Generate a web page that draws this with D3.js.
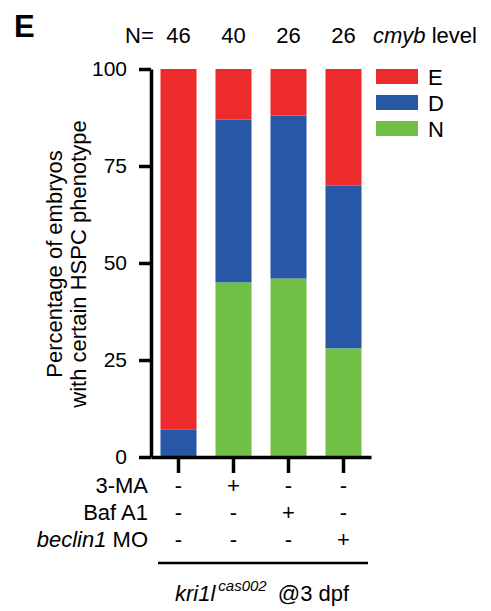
<!DOCTYPE html>
<html>
<head>
<meta charset="utf-8">
<script src="https://cdn.jsdelivr.net/npm/d3@7"></script>
<style>
  body { margin: 0; background: #fff; }
  text { font-family: "Liberation Sans", Arial, sans-serif; fill: #000; }
</style>
</head>
<body>
<div id="chart"></div>
<script>
// data
const groups = ["ctrl", "3-MA", "Baf A1", "beclin1 MO"];
const nCounts = [46, 40, 26, 26];
const pctN = [0, 45, 46, 28];
const pctD = [7, 42, 42, 42];
const pctE = [93, 13, 12, 30];
const levels = ["N", "D", "E"];
const legendOrder = ["E", "D", "N"];
const yTicks = [0, 25, 50, 75, 100];
const treatmentLabels = ["3-MA", "Baf A1", "beclin1 MO"];
const treatmentSigns = [
  ["-", "+", "-", "-"],
  ["-", "-", "+", "-"],
  ["-", "-", "-", "+"]
];

const colors = { E: "#ed2b2c", D: "#2757a5", N: "#72bf46" };

const width = 491, height = 611;
const fs = "22px";

let svg = d3.select("#chart")
  .append("svg")
  .attr("width", width)
  .attr("height", height);

let x = d3.scaleBand()
  .domain(groups)
  .range([151, 371])
  .paddingInner(0.345)
  .paddingOuter(0.1725);

let y = d3.scaleLinear()
  .domain([0, 100])
  .range([457, 69]);

// stack the three phenotype levels
let rows = groups.map((g, i) => ({ group: g, N: pctN[i], D: pctD[i], E: pctE[i] }));
let series = d3.stack().keys(levels)(rows);

svg.append("g")
  .selectAll("g")
  .data(series)
  .enter()
  .append("g")
  .attr("fill", d => colors[d.key])
  .selectAll("rect")
  .data(d => d)
  .enter()
  .append("rect")
  .attr("x", d => x(d.data.group))
  .attr("width", x.bandwidth())
  .attr("y", d => y(d[1]))
  .attr("height", d => y(d[0]) - y(d[1]));

// y axis
let yAxis = svg.append("g")
  .attr("transform", "translate(151,0)")
  .call(d3.axisLeft(y).tickValues(yTicks).tickSize(12).tickSizeOuter(0).tickPadding(12));
yAxis.selectAll("path, line").attr("stroke", "#000").attr("stroke-width", 3.5);
yAxis.selectAll("text").style("font-size", "21px").attr("fill", "#000");

// x axis (ticks only)
let xAxis = svg.append("g")
  .attr("transform", "translate(0,457)")
  .call(d3.axisBottom(x).tickSize(16).tickSizeOuter(0).tickFormat(""));
xAxis.selectAll("path, line").attr("stroke", "#000").attr("stroke-width", 3.5);

// y title
let yTitle = svg.append("text")
  .attr("transform", "translate(62,264) rotate(-90)")
  .attr("text-anchor", "middle")
  .style("font-size", fs);
yTitle.append("tspan").attr("x", 0).attr("dy", 0).text("Percentage of embryos");
yTitle.append("tspan").attr("x", 0).attr("dy", 24).text("with certain HSPC phenotype");

// panel letter
svg.append("text")
  .attr("x", 14)
  .attr("y", 37)
  .style("font-size", "31px")
  .style("font-weight", "bold")
  .text("E");

// N counts
svg.append("text")
  .attr("x", 125)
  .attr("y", 43)
  .style("font-size", fs)
  .text("N=");
svg.append("g")
  .selectAll("text")
  .data(nCounts)
  .enter()
  .append("text")
  .attr("x", (d, i) => x(groups[i]) + x.bandwidth() / 2)
  .attr("y", 43)
  .attr("text-anchor", "middle")
  .style("font-size", fs)
  .text(d => d);

let lvlTitle = svg.append("text")
  .attr("x", 373)
  .attr("y", 43)
  .style("font-size", fs);
lvlTitle.append("tspan").style("font-style", "italic").text("cmyb");
lvlTitle.append("tspan").text(" level");

// legend
let legend = svg.append("g")
  .selectAll("g")
  .data(legendOrder)
  .enter()
  .append("g")
  .attr("transform", (d, i) => `translate(376,${69 + i * 26})`);
legend.append("rect")
  .attr("width", 42)
  .attr("height", 15)
  .attr("fill", d => colors[d]);
legend.append("text")
  .attr("x", 52)
  .attr("y", 16)
  .style("font-size", fs)
  .text(d => d);

// treatment table
let rowY = [493, 520, 547];
treatmentLabels.forEach((lab, r) => {
  let t = svg.append("text")
    .attr("x", 148)
    .attr("y", rowY[r])
    .attr("text-anchor", "end")
    .style("font-size", fs);
  if (lab === "beclin1 MO") {
    t.append("tspan").style("font-style", "italic").text("beclin1");
    t.append("tspan").text(" MO");
  } else {
    t.text(lab);
  }
  svg.append("g")
    .selectAll("text")
    .data(treatmentSigns[r])
    .enter()
    .append("text")
    .attr("x", (d, i) => x(groups[i]) + x.bandwidth() / 2)
    .attr("y", rowY[r])
    .attr("text-anchor", "middle")
    .style("font-size", fs)
    .text(d => d);
});

// bracket line + genotype caption
svg.append("line")
  .attr("x1", 158).attr("x2", 368)
  .attr("y1", 563).attr("y2", 563)
  .attr("stroke", "#000")
  .attr("stroke-width", 2.5);

let cap = svg.append("text")
  .attr("x", 175)
  .attr("y", 601)
  .style("font-size", fs);
cap.append("tspan").style("font-style", "italic").text("kri1l");
cap.append("tspan").style("font-style", "italic").style("font-size", "15px").attr("dx", 3).attr("dy", -10).text("cas002");
cap.append("tspan").attr("dx", 5).attr("dy", 10).text(" @3 dpf");
</script>
</body>
</html>
